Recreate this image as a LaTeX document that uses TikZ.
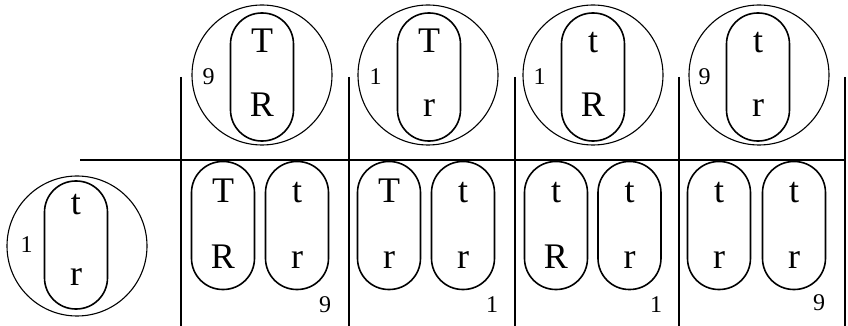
\documentclass[tikz,border=0pt]{standalone}
\usepackage{fontspec}
\setmainfont{Liberation Serif}
\usepackage{tikz}
\usetikzlibrary{positioning}

\begin{document}
\begin{tikzpicture}[
    x=0.5pt, y=-0.5pt,
    every node/.style={inner sep=0pt, outer sep=0pt},
    pool/.style={draw, circle, line width=0.55pt, minimum size=70pt},
    capsule/.style={draw, rectangle, rounded corners=15.6pt, minimum width=31.5pt, minimum height=64pt, line width=0.8pt},
    letter/.style={anchor=base, font=\fontsize{18}{18}\selectfont},
    count/.style={font=\fontsize{12}{12}\selectfont},
    rule/.style={line width=0.9pt},
    mainrule/.style={line width=1.3pt}
]
\useasboundingbox (0,0) rectangle (848,326);

% Table frame
\draw[mainrule] (80,160) -- (846,160);
\foreach \x in {181,349,515,679,845}
    \draw[rule] (\x,77) -- (\x,326);

% Top row: parent pools
\node[pool] (p1) at (262,75) {};
\node[capsule] (c1) at (262,77) {};
\node[letter] (c1u) at ([yshift=12.2pt]c1.center) {T};
\node[letter] (c1l) at ([yshift=-20pt]c1.center) {R};
\node[count, left=8pt of c1.west] (n1) {9};

\node[pool] (p2) at (428,75) {};
\node[capsule] (c2) at (429,77) {};
\node[letter] (c2u) at ([yshift=12.2pt]c2.center) {T};
\node[letter] (c2l) at ([yshift=-20pt]c2.center) {r};
\node[count, left=8pt of c2.west] (n2) {1};

\node[pool] (p3) at (593,75) {};
\node[capsule] (c3) at (593,77) {};
\node[letter] (c3u) at ([yshift=12.2pt]c3.center) {t};
\node[letter] (c3l) at ([yshift=-20pt]c3.center) {R};
\node[count, left=8pt of c3.west] (n3) {1};

\node[pool] (p4) at (759,75) {};
\node[capsule] (c4) at (758,77) {};
\node[letter] (c4u) at ([yshift=12.2pt]c4.center) {t};
\node[letter] (c4l) at ([yshift=-20pt]c4.center) {r};
\node[count, left=8pt of c4.west] (n4) {9};

% Left column: tester pool
\node[pool] (p0) at (77,246) {};
\node[capsule] (c0) at (76,245) {};
\node[letter] (c0u) at ([yshift=15pt]c0.center) {t};
\node[letter] (c0l) at ([yshift=-20.5pt]c0.center) {r};
\node[count, left=6pt of c0.west] (n0) {1};

% Bottom row: offspring pairs
\node[capsule] (a1) at (223,225.5) {};
\node[letter] (a1u) at ([yshift=11.5pt]a1.center) {T};
\node[letter] (a1l) at ([yshift=-21.5pt]a1.center) {R};
\node[capsule] (b1) at (297,225.5) {};
\node[letter] (b1u) at ([yshift=11.5pt]b1.center) {t};
\node[letter] (b1l) at ([yshift=-21.5pt]b1.center) {r};
\node[count] (m1) at (325,305) {9};

\node[capsule] (a2) at (389,225.5) {};
\node[letter] (a2u) at ([yshift=11.5pt]a2.center) {T};
\node[letter] (a2l) at ([yshift=-21.5pt]a2.center) {r};
\node[capsule] (b2) at (463,225.5) {};
\node[letter] (b2u) at ([yshift=11.5pt]b2.center) {t};
\node[letter] (b2l) at ([yshift=-21.5pt]b2.center) {r};
\node[count] (m2) at (492,305) {1};

\node[capsule] (a3) at (556,225.5) {};
\node[letter] (a3u) at ([yshift=11.5pt]a3.center) {t};
\node[letter] (a3l) at ([yshift=-21.5pt]a3.center) {R};
\node[capsule] (b3) at (629.5,225.5) {};
\node[letter] (b3u) at ([yshift=11.5pt]b3.center) {t};
\node[letter] (b3l) at ([yshift=-21.5pt]b3.center) {r};
\node[count] (m3) at (656,305) {1};

\node[capsule] (a4) at (719,225.5) {};
\node[letter] (a4u) at ([yshift=11.5pt]a4.center) {t};
\node[letter] (a4l) at ([yshift=-21.5pt]a4.center) {r};
\node[capsule] (b4) at (794,225.5) {};
\node[letter] (b4u) at ([yshift=11.5pt]b4.center) {t};
\node[letter] (b4l) at ([yshift=-21.5pt]b4.center) {r};
\node[count] (m4) at (819,303) {9};

\end{tikzpicture}
\end{document}
